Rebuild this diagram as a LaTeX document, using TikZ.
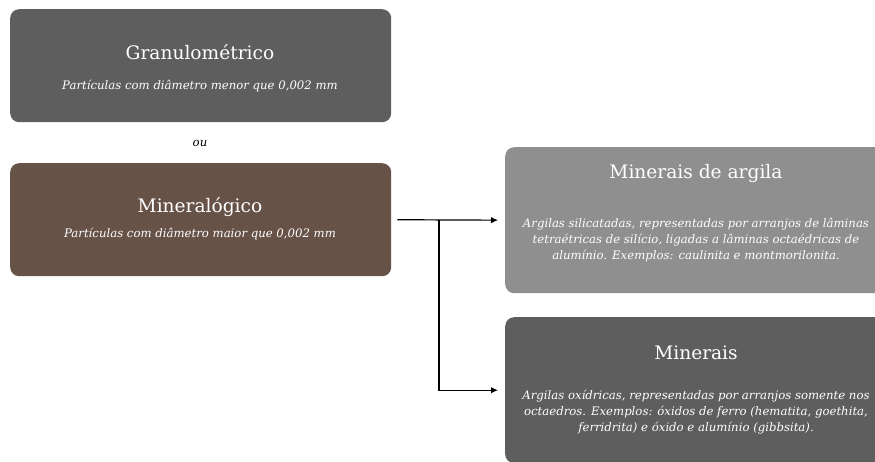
\documentclass[tikz,border=0pt]{standalone}
\usepackage{fontspec}
\setmainfont{DejaVu Serif}
\usetikzlibrary{arrows.meta}
\definecolor{darkgrey}{HTML}{5E5E5E}
\definecolor{brownbox}{HTML}{675248}
\definecolor{lightgrey}{HTML}{8F8F8F}
\tikzset{
  box/.style={rectangle, rounded corners=9pt, inner sep=0pt,
    minimum width=381pt, minimum height=#1, anchor=north west},
  boxtitle/.style={text=white, font=\fontsize{18.6}{21}\selectfont},
  boxtext/.style={text=white, align=center, font=\fontsize{11.7}{16}\selectfont\itshape},
  link/.style={line width=1.2pt, -{Latex[length=7pt,width=6.5pt]}}
}
\begin{document}
\begin{tikzpicture}[x=1pt,y=-1pt]
  \useasboundingbox (0,0) rectangle (875,461);
  \clip (0,0) rectangle (875,461);
  % left column
  \node[box=113pt, fill=darkgrey] (gran) at (10,9) {};
  \node[boxtitle] (granT) at (200,52) {Granulométrico};
  \node[boxtext] (granS) at (200,86) {Partículas com diâmetro menor que 0,002 mm};
  \node[font=\fontsize{11.7}{13}\selectfont\itshape] (ou) at (200,143) {ou};
  \node[box=113pt, fill=brownbox] (mine) at (10,163) {};
  \node[boxtitle] (mineT) at (200,207) {Mineralógico};
  \node[boxtext] (mineS) at (200,234) {Partículas com diâmetro maior que 0,002 mm};
  % right column
  \node[box=146pt, fill=lightgrey] (arg) at (505,147) {};
  \node[boxtitle] (argT) at (696,173) {Minerais de argila};
  \node[boxtext] (argS) at (696,240) {Argilas silicatadas, representadas por arranjos de lâminas\\
    tetraétricas de silício, ligadas a lâminas octaédricas de\\
    alumínio. Exemplos: caulinita e montmorilonita.};
  \node[box=146pt, fill=darkgrey] (min) at (505,317) {};
  \node[boxtitle] (minT) at (696,353) {Minerais};
  \node[boxtext] (minS) at (696,412) {Argilas oxídricas, representadas por arranjos somente nos\\
    octaedros. Exemplos: óxidos de ferro (hematita, goethita,\\
    ferridrita) e óxido e alumínio (gibbsita).};
  % connectors
  \coordinate (split) at (439,220);
  \draw[link, shorten <=6pt, shorten >=7pt] (mine.east) -- (arg.west);
  \draw[link, shorten >=7pt] (split) |- (min.west);
\end{tikzpicture}
\end{document}
